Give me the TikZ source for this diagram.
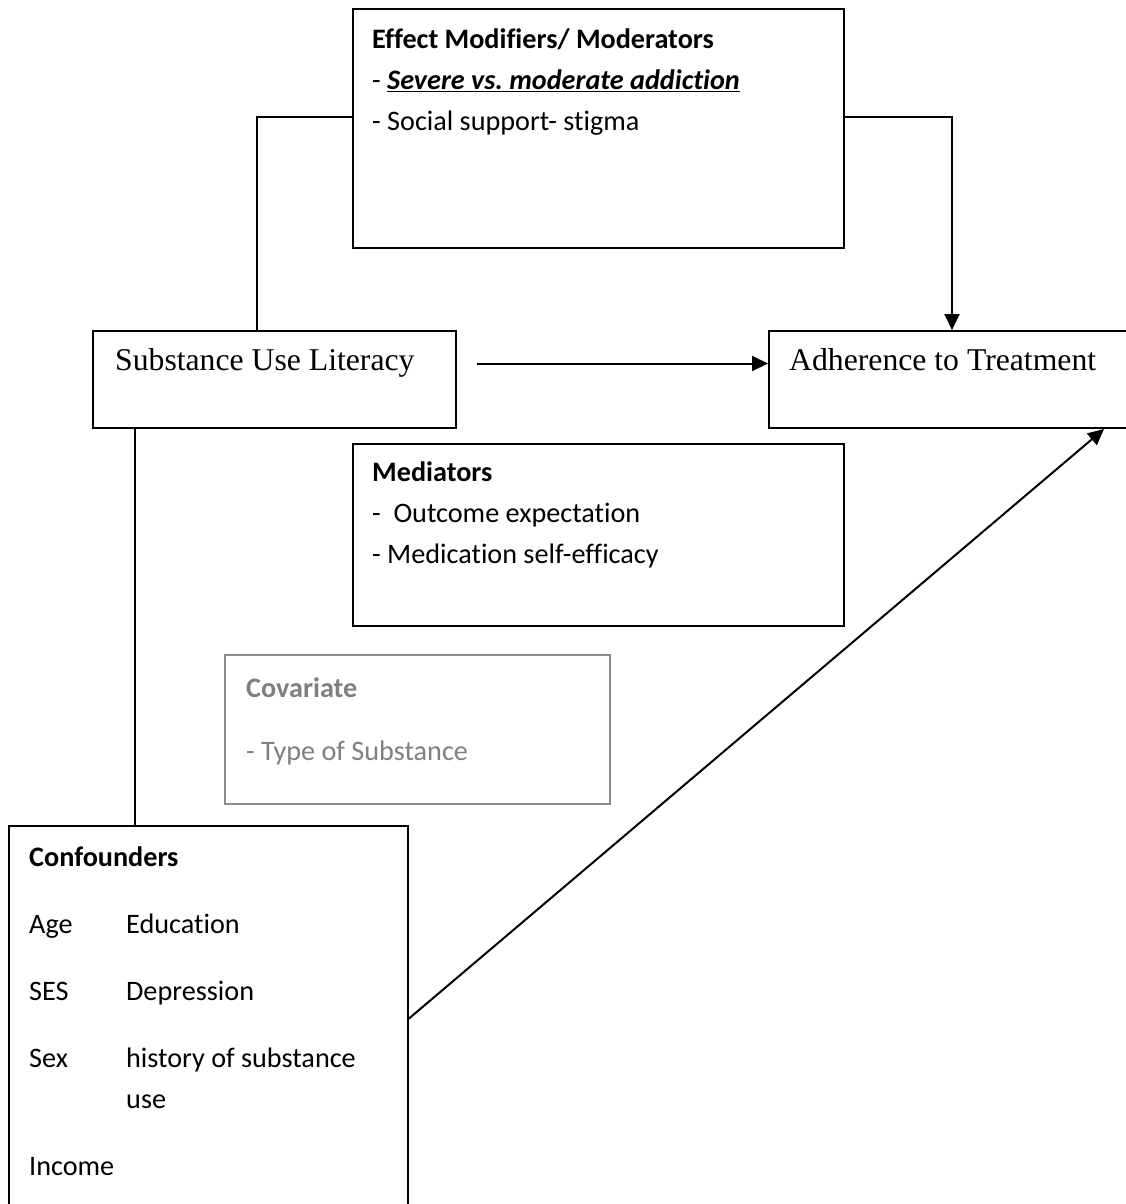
\documentclass[tikz,border=0pt]{standalone}
\usepackage{fontspec}
\setmainfont{Carlito}[Ligatures=NoCommon]
\newfontfamily\timesfont{Liberation Serif}
\usetikzlibrary{arrows.meta}
\definecolor{covgray}{RGB}{127,127,127}
\definecolor{covline}{RGB}{140,140,140}
\frenchspacing

\tikzset{
  box/.style={draw, line width=2pt, inner sep=0pt, anchor=north west},
  txt/.style={anchor=base west, align=left, inner sep=0pt, font=\fontsize{28.2}{41}\selectfont},
  ttl/.style={anchor=base west, inner sep=0pt, font=\timesfont\fontsize{31.7}{38}\selectfont},
  conn/.style={line width=2pt},
  arr/.style={conn, -{Triangle[length=16pt,width=15pt]}},
}

\begin{document}
\begin{tikzpicture}[x=1pt, y=-1pt]
    \useasboundingbox (0,0) rectangle (1126,1204);
    \clip (0,0) rectangle (1126,1204);

    % boxes
    \node[box, minimum width=491pt, minimum height=239pt] (modbox) at (352,8) {};
    \node[box, minimum width=363pt, minimum height=97pt] (sul) at (92,330) {};
    \node[box, minimum width=366pt, minimum height=97pt] (adh) at (768,330) {};
    \node[box, minimum width=491pt, minimum height=182pt] (medbox) at (352,443) {};
    \node[box, draw=covline, minimum width=385pt, minimum height=149pt] (covbox) at (224,654) {};
    \node[box, minimum width=399pt, minimum height=400pt] (confbox) at (8,825) {};

    % texts (anchored at the baseline of the last line)
    \node[txt] (modtxt) at (372,131) {\textbf{Effect Modifiers/ Moderators}\\
        - \underline{\textbf{\textit{Severe vs. moderate addiction}}}\\
        - Social support- stigma};
    \node[ttl] (sultxt) at (115,370) {Substance Use Literacy};
    \node[ttl] (adhtxt) at (789,370) {Adherence to Treatment};
    \node[txt] (medtxt) at (372,563) {\textbf{Mediators}\\
        -~~Outcome expectation\\
        - Medication self-efficacy};
    \node[txt, text=covgray] (covtxt) at (246,760) {\textbf{Covariate}\\[22pt]
        - Type of Substance};
    \node[txt] (conftxt) at (29,1175) {\textbf{Confounders}\\[26pt]
        \makebox[97pt][l]{Age}Education\\[26pt]
        \makebox[97pt][l]{SES}Depression\\[26pt]
        \makebox[97pt][l]{Sex}history of substance\\
        \makebox[97pt][l]{}use\\[26pt]
        Income};

    % connectors
    \draw[conn] ([xshift=165pt]sul.north west) |- ([yshift=11.5pt]modbox.west);
    \draw[arr] ([yshift=11.5pt]modbox.east) -| (adh.north);
    \draw[arr] ([xshift=20pt,yshift=16pt]sul.east) -- ([yshift=16pt]adh.west);
    \draw[conn] ([xshift=43pt]sul.south west) -- ([xshift=43pt]sul.south west |- confbox.north);
    \draw[arr] ([yshift=7.5pt]confbox.east) -- ([xshift=-32pt]adh.south east);
\end{tikzpicture}
\end{document}
